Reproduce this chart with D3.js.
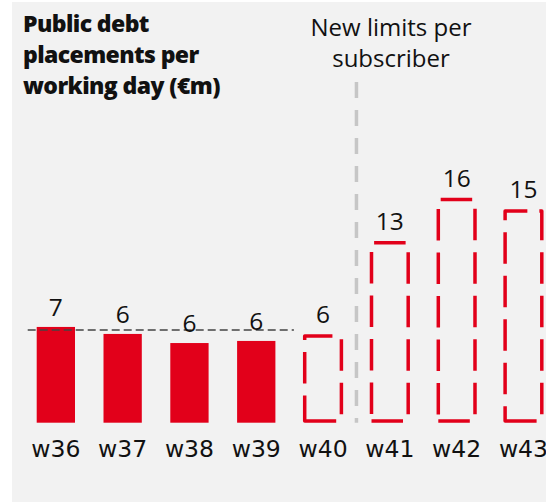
<!DOCTYPE html>
<html>
<head>
<meta charset="utf-8">
<script src="https://cdn.jsdelivr.net/npm/d3@7"></script>
<style>
  html, body { margin: 0; padding: 0; background: #ffffff; }
  svg { display: block; }
</style>
</head>
<body>
<div id="chart"></div>
<script>
// data
const weeks = ["w36", "w37", "w38", "w39", "w40", "w41", "w42", "w43"];
const placements = [6.84, 6.34, 5.69, 5.84, 6.31, 12.98, 16.07, 15.24];
const isProjected = [false, false, false, false, true, true, true, true];
const averageLevel = 6.62;
const titleLines = ["Public debt", "placements per", "working day (€m)"];
const noteLines = ["New limits per", "subscriber"];

const width = 546, height = 502;
const red = "#e2001a";

const svg = d3.select("#chart")
  .append("svg")
  .attr("width", width)
  .attr("height", height);

// grey panel
svg.append("rect")
  .attr("x", 12)
  .attr("y", 2)
  .attr("width", width - 12)
  .attr("height", height - 2)
  .attr("fill", "#f2f2f2");

const x = d3.scaleBand()
  .domain(weeks)
  .range([36.7, 542.6])
  .paddingInner(0.4267)
  .paddingOuter(0);

const y = d3.scaleLinear()
  .domain([0, 16])
  .range([422.7, 198.7]);

const data = weeks.map((w, i) => ({ week: w, value: placements[i], projected: isProjected[i] }));

// solid bars
svg.selectAll(".bar")
  .data(data.filter(d => !d.projected))
  .join("rect")
  .attr("class", "bar")
  .attr("x", d => x(d.week))
  .attr("y", d => y(d.value))
  .attr("width", x.bandwidth())
  .attr("height", d => y(0) - y(d.value))
  .attr("fill", red);

// dashed outline bars (path starts bottom-left, runs right, up, left, down)
const sw = 3.5;
svg.selectAll(".outline")
  .data(data.filter(d => d.projected))
  .join("path")
  .attr("class", "outline")
  .attr("d", d => {
    const x0 = x(d.week) + 0.8, x1 = x(d.week) + x.bandwidth() - 0.8;
    const yb = y(0) - sw / 2, yt = y(d.value) + sw / 2;
    const p = d3.path();
    p.moveTo(x0, yb);
    p.lineTo(x1, yb);
    p.lineTo(x1, yt);
    p.lineTo(x0, yt);
    p.closePath();
    return p.toString();
  })
  .attr("fill", "none")
  .attr("stroke", red)
  .attr("stroke-width", sw)
  .attr("stroke-linejoin", "round")
  .attr("stroke-dasharray", "31.5 12");

// average line
svg.append("line")
  .attr("x1", x("w36") - 9)
  .attr("x2", x("w40") - 10)
  .attr("y1", y(averageLevel))
  .attr("y2", y(averageLevel))
  .attr("stroke", "#444")
  .attr("stroke-width", 1.6)
  .attr("stroke-dasharray", "8 4");

// divider before the new limits
const divX = (x("w40") + x.bandwidth() + x("w41")) / 2;
svg.append("line")
  .attr("x1", divX)
  .attr("x2", divX)
  .attr("y1", 82)
  .attr("y2", y(0))
  .attr("stroke", "#c6c6c6")
  .attr("stroke-width", 3.5)
  .attr("stroke-dasharray", "16 12");

// value labels
svg.selectAll(".val")
  .data(data)
  .join("text")
  .attr("class", "val")
  .attr("x", d => x(d.week) + x.bandwidth() / 2)
  .attr("y", d => y(d.value) - 11)
  .attr("text-anchor", "middle")
  .attr("font-family", "'Open Sans', sans-serif")
  .attr("font-size", 24.5)
  .attr("fill", "#111")
  .text(d => Math.round(d.value));

// week labels
svg.selectAll(".wk")
  .data(weeks)
  .join("text")
  .attr("class", "wk")
  .attr("x", d => x(d) + x.bandwidth() / 2)
  .attr("y", 457)
  .attr("text-anchor", "middle")
  .attr("font-family", "'DejaVu Sans', sans-serif")
  .attr("font-size", 23.5)
  .attr("fill", "#111")
  .text(d => d);

// title
svg.append("text")
  .attr("x", 23)
  .attr("font-family", "'Open Sans', sans-serif")
  .attr("font-weight", 800)
  .attr("font-size", 23)
  .attr("letter-spacing", -0.6)
  .attr("fill", "#111")
  .selectAll("tspan")
  .data(titleLines)
  .join("tspan")
  .attr("x", 23)
  .attr("y", (d, i) => 31.5 + i * 31.3)
  .text(d => d);

// annotation
svg.append("text")
  .attr("text-anchor", "middle")
  .attr("font-family", "'Open Sans', sans-serif")
  .attr("font-size", 24)
  .attr("fill", "#111")
  .selectAll("tspan")
  .data(noteLines)
  .join("tspan")
  .attr("x", 391)
  .attr("y", (d, i) => 36 + i * 30.5)
  .text(d => d);
</script>
</body>
</html>
